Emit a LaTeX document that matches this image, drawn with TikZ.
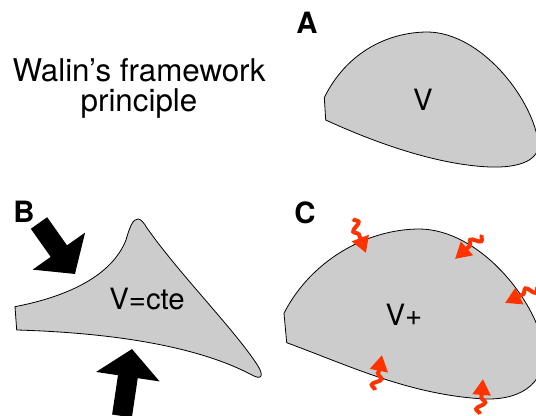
\documentclass[tikz,border=0pt]{standalone}
\usepackage{fontspec}
\setmainfont{TeX Gyre Heros}
\usetikzlibrary{arrows.meta, decorations.pathmorphing, positioning}
\definecolor{blobfill}{RGB}{204, 204, 204}
\definecolor{heatred}{RGB}{255, 51, 0}

\begin{document}
\begin{tikzpicture}[x=0.75pt, y=-0.75pt,
    blob/.style={draw=black, line width=0.6pt, fill=blobfill},
    tag/.style={font=\bfseries\fontsize{22}{24}\selectfont, inner sep=0pt},
    vol/.style={font=\fontsize{22}{24}\selectfont, inner sep=0pt},
    title/.style={font=\fontsize{23.5}{22.5}\selectfont, align=center, inner sep=0pt},
    push/.style={line width=15pt, -{Triangle[length=21pt, width=47pt]}},
    heat/.style={draw=heatred, line width=3pt, -{Triangle[length=12pt, width=13pt]},
      decorate, decoration={snake, amplitude=3.2pt, segment length=11pt, post length=10pt}},
  ]
  \useasboundingbox (0,0) rectangle (536,416);
  \clip (0,0) rectangle (536,416);

  % title
  \node[title] (title) at (139,88) {Walin’s framework\\principle};

  % A: the volume at rest
  \draw[blob] (325.7,120) -- (324.3,97.7)
    .. controls (345,55) and (385,32) .. (428,32)
    .. controls (480,33) and (530,95) .. (538,140)
    .. controls (542,160) and (520,168) .. (490,167)
    .. controls (440,165) and (380,145) .. (325.7,120) -- cycle;
  \node[tag] (tagA) at (307,23) {A};
  \node[vol] (volA) at (423,100) {V};

  % B: squeezed at constant volume
  \draw[blob] (16.7,330) -- (15,306.7)
    .. controls (70,296) and (112,275) .. (126,240)
    .. controls (130,226) and (133,219) .. (138,219)
    .. controls (141,219) and (144,223) .. (147,228)
    .. controls (180,275) and (235,330) .. (258,366)
    .. controls (264,376) and (262,381) .. (250,374)
    .. controls (200,348) and (120,333) .. (16.7,330) -- cycle;
  \node[tag] (tagB) at (24,212) {B};
  \node[vol] (volB) at (147,299) {V=cte};
  \coordinate (pushAtail) at (39,223);
  \coordinate (pushAtip) at (75,274);
  \coordinate (pushBtail) at (122,416);
  \coordinate (pushBtip) at (132,349);
  \draw[push] (pushAtail) -- (pushAtip);
  \draw[push] (pushBtail) -- (pushBtip);

  % C: heated, volume grows
  \draw[blob] (286.7,342.7) -- (284,313.3)
    .. controls (310,262) and (365,229) .. (420,229)
    .. controls (480,230) and (535,300) .. (543,345)
    .. controls (548,380) and (525,400) .. (485,399)
    .. controls (410,395) and (350,366) .. (286.7,342.7) -- cycle;
  \node[tag] (tagC) at (305,213) {C};
  \node[vol] (volC) at (404,315) {V+};
  \coordinate (heatAs) at (353,219);
  \coordinate (heatAt) at (366,253);
  \coordinate (heatBs) at (482,235);
  \coordinate (heatBt) at (455,259);
  \coordinate (heatCs) at (538,287);
  \coordinate (heatCt) at (505,303);
  \coordinate (heatDs) at (375,390);
  \coordinate (heatDt) at (382,355);
  \coordinate (heatEs) at (480,414);
  \coordinate (heatEt) at (483,379);
  \foreach \h in {A,B,C,D,E}
    \draw[heat] (heat\h s) -- (heat\h t);
\end{tikzpicture}
\end{document}
